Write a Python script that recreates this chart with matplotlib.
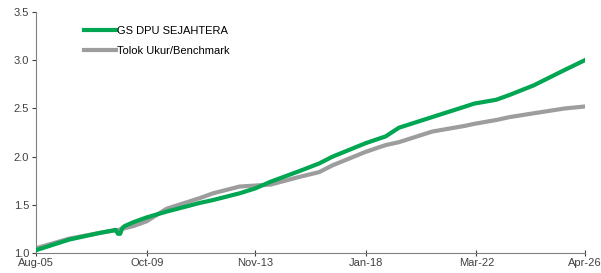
import matplotlib
matplotlib.use('Agg')
import matplotlib.pyplot as plt

plt.rcParams['font.family'] = ['Liberation Sans', 'DejaVu Sans']

# months counted from Aug-05
tick_pos = [0, 50, 99, 149, 199, 248]
tick_labels = ['Aug-05', 'Oct-09', 'Nov-13', 'Jan-18', 'Mar-22', 'Apr-26']

fund_m = [0, 15, 29, 36, 37, 38, 39, 40, 44, 50, 59, 74, 80, 92, 99, 106, 119,
          128, 134, 149, 158, 164, 179, 194, 198, 208, 214, 225, 239, 248]
fund_v = [1.03, 1.14, 1.21, 1.24, 1.20, 1.20, 1.26, 1.28, 1.32, 1.37, 1.43, 1.52, 1.55, 1.62,
          1.67, 1.74, 1.85, 1.93, 2.00, 2.14, 2.21, 2.30, 2.41, 2.52, 2.55, 2.59, 2.64,
          2.74, 2.90, 3.00]

bench_m = [0, 15, 29, 37, 44, 50, 59, 74, 80, 92, 99, 106, 119, 128, 134, 149, 158,
           164, 179, 194, 198, 208, 214, 225, 239, 248]
bench_v = [1.05, 1.15, 1.21, 1.24, 1.28, 1.33, 1.46, 1.57, 1.62, 1.69, 1.70, 1.71, 1.79,
           1.84, 1.91, 2.05, 2.12, 2.15, 2.26, 2.32, 2.34, 2.38, 2.41, 2.45, 2.50, 2.52]

fig = plt.figure(figsize=(6.01, 2.73), dpi=100)
ax = fig.add_axes([0.06, 0.073, 0.913, 0.883])

ax.plot(fund_m, fund_v, color='#00a651', linewidth=3, label='GS DPU SEJAHTERA', zorder=3)
ax.plot(bench_m, bench_v, color='#9d9d9d', linewidth=3, label='Tolok Ukur/Benchmark', zorder=2)

ax.set_xlim(0, 248)
ax.set_ylim(1.0, 3.5)
ax.set_yticks([1.0, 1.5, 2.0, 2.5, 3.0, 3.5])
ax.set_yticklabels(['1.0', '1.5', '2.0', '2.5', '3.0', '3.5'])
ax.set_xticks(tick_pos)
ax.set_xticklabels(tick_labels)

for s in ['top', 'right']:
    ax.spines[s].set_visible(False)
for s in ['left', 'bottom']:
    ax.spines[s].set_color('#808080')
    ax.spines[s].set_linewidth(0.8)
ax.tick_params(axis='both', labelsize=8, colors='#404040', length=3, width=0.8)
ax.tick_params(axis='x', direction='inout', length=5, pad=1)
ax.tick_params(axis='y', pad=2)
for lab in ax.get_xticklabels() + ax.get_yticklabels():
    lab.set_color('#404040')

ax.legend(loc='upper left', bbox_to_anchor=(0.07, 0.985), frameon=False, fontsize=8,
          handlelength=2.8, handletextpad=0.15, labelspacing=0.95)

fig.savefig('out.png', dpi=100)
